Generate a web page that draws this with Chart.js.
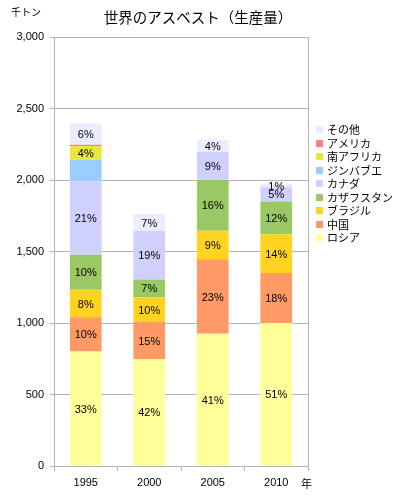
<!DOCTYPE html>
<html><head><meta charset="utf-8">
<script src="https://cdn.jsdelivr.net/npm/chart.js@4"></script>
<style>html,body{margin:0;padding:0;background:#fff}#wrap{width:396px;height:500px}</style>
</head><body><div id="wrap"><canvas id="c" width="396" height="500"></canvas></div>
<script>
const categories = ['1995', '2000', '2005', '2010'];
const russia      = [800, 746, 925, 1000];
const china       = [240, 262, 520, 350];
const brazil      = [192, 172, 200, 270];
const kazakhstan  = [245, 124, 355, 230];
const canada      = [515, 340, 195, 100];
const zimbabwe    = [150, 0, 0, 0];
const southAfrica = [95, 0, 0, 0];
const usa         = [9, 0, 0, 0];
const other       = [150, 118, 85, 22];
const seriesNames = ['ロシア', '中国', 'ブラジル', 'カザフスタン', 'カナダ', 'ジンバブエ', '南アフリカ', 'アメリカ', 'その他'];
const seriesColors = ['#ffff99', '#ff9966', '#ffd320', '#99c864', '#d0d0ff', '#99ccff', '#e8e83c', '#ff8080', '#ececff'];
const unlabeledSeries = ['ジンバブエ', 'アメリカ'];
const yMax = 3000, yStep = 500;
const titleText = '世界のアスベスト（生産量）';
const yUnit = '千トン';
const xUnit = '年';

const seriesValues = [russia, china, brazil, kazakhstan, canada, zimbabwe, southAfrica, usa, other];
const FONT = "'Liberation Sans', Arial, sans-serif";
const JFONT = "'Noto Sans CJK JP', sans-serif";
const GRID = '#b4b4b4';

const datasets = seriesNames.map((n, i) => ({
  label: n, data: seriesValues[i], backgroundColor: seriesColors[i], borderWidth: 0,
  barPercentage: 0.5, categoryPercentage: 1.0
}));

const extras = {
  id: 'extras',
  afterDatasetsDraw(chart) {
    const ctx = chart.ctx;
    const n = chart.data.labels.length;
    const totals = [];
    for (let j = 0; j < n; j++) totals[j] = chart.data.datasets.reduce((s, d) => s + d.data[j], 0);
    ctx.save();
    ctx.font = '11px ' + FONT;
    ctx.fillStyle = '#000';
    ctx.textAlign = 'center';
    ctx.textBaseline = 'middle';
    chart.data.datasets.forEach((d, i) => {
      if (unlabeledSeries.includes(d.label)) return;
      const meta = chart.getDatasetMeta(i);
      meta.data.forEach((el, j) => {
        const v = d.data[j];
        if (!v) return;
        const pct = Math.round(v / totals[j] * 100);
        ctx.fillText(pct + '%', el.x, (el.y + el.base) / 2 + 1);
      });
    });
    ctx.restore();
  },
  afterDraw(chart) {
    const ctx = chart.ctx, a = chart.chartArea;
    ctx.save();
    ctx.strokeStyle = GRID; ctx.lineWidth = 1;
    ctx.beginPath(); ctx.moveTo(Math.round(a.right) + 0.5, a.top); ctx.lineTo(Math.round(a.right) + 0.5, a.bottom); ctx.stroke();
    ctx.fillStyle = '#000';
    ctx.textBaseline = 'middle';
    ctx.textAlign = 'center';
    ctx.font = '14.5px ' + JFONT;
    ctx.fillText(titleText, 198, 17);
    ctx.textAlign = 'left';
    ctx.font = '10px ' + JFONT;
    ctx.fillText(yUnit, 11, 12);
    ctx.font = '11px ' + JFONT;
    ctx.fillText(xUnit, 301, 484);
    // legend (reverse order)
    const ds = chart.data.datasets.slice().reverse();
    ds.forEach((d, k) => {
      const y = 129 + k * 13.5;
      ctx.fillStyle = d.backgroundColor;
      ctx.fillRect(316, Math.round(y - 3), 7, 7);
      ctx.fillStyle = '#000';
      ctx.font = '11px ' + JFONT;
      ctx.fillText(d.label, 327, y + 1);
    });
    ctx.restore();
  }
};

new Chart(document.getElementById('c'), {
  type: 'bar',
  data: { labels: categories, datasets },
  options: {
    responsive: false, animation: false, devicePixelRatio: 1,
    layout: { padding: { left: 0, right: 88, top: 37, bottom: 0 } },
    plugins: { legend: { display: false }, title: { display: false }, tooltip: { enabled: false } },
    scales: {
      x: {
        stacked: true,
        grid: { offset: true, drawOnChartArea: false, drawTicks: true, tickLength: 5, color: GRID },
        border: { color: GRID },
        ticks: { font: { size: 11, family: FONT }, color: '#000', padding: 5 },
        afterFit(s) { s.height = 34; }
      },
      y: {
        stacked: true, min: 0, max: yMax,
        grid: { color: GRID, tickLength: 4 },
        border: { color: GRID },
        ticks: { stepSize: yStep, font: { size: 11, family: FONT }, color: '#000', padding: 6,
                 callback: v => v.toLocaleString('en-US') },
        afterFit(s) { s.width = 54; }
      }
    }
  },
  plugins: [extras]
});
</script>
</body></html>
